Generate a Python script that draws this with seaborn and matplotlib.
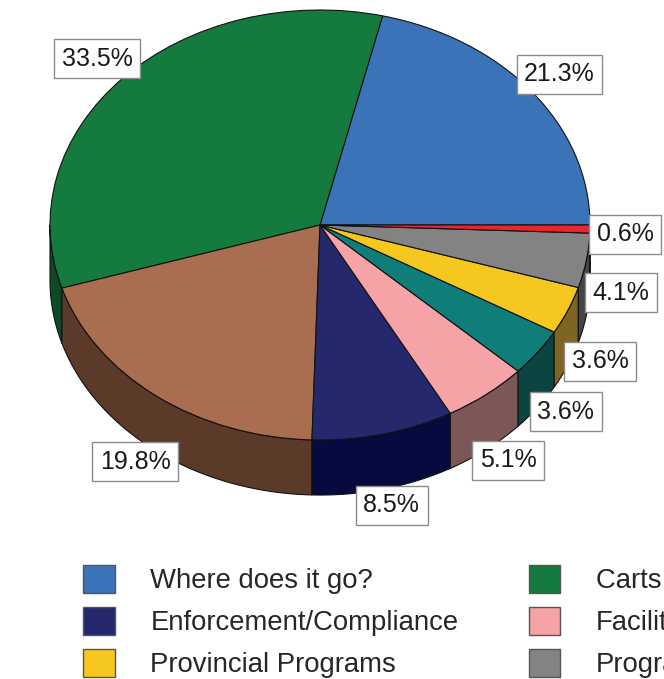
import numpy as np
import matplotlib
matplotlib.use("Agg")
import matplotlib.pyplot as plt
import seaborn as sns
from matplotlib.patches import Patch

# Budget shares, drawn counter-clockwise from 3 o'clock
categories = [
    "Where does it go?", "Carts and Bins", "Collection",
    "Enforcement/Compliance", "Facilities", "Education",
    "Provincial Programs", "Programs", "Other",
]
shares = [21.3, 33.5, 19.8, 8.5, 5.1, 3.6, 3.6, 4.1, 0.6]
top_colors = ["#3b73b9", "#157a3d", "#a96d4f", "#25286d", "#f5a3a6",
              "#0f7d78", "#f5c71f", "#838383", "#e9262b"]
side_colors = ["#1d3a5e", "#0e4a25", "#5c3a29", "#060a3e", "#7d5657",
               "#0b4440", "#7f6522", "#454545", "#6e1214"]

DEPTH = 0.256  # thickness of the disc, in radius units


def draw_pie(ax):
    # top faces
    wedges, _ = ax.pie(shares, colors=top_colors, startangle=0,
                       counterclock=True,
                       wedgeprops=dict(edgecolor="#111111", linewidth=0.8))
    ax.set_aspect("auto")

    frac = np.array(shares) / sum(shares)
    bounds = np.concatenate([[0], np.cumsum(frac)]) * 360

    # side walls for the front (lower) half
    for i in range(len(shares)):
        lo = max(bounds[i], 180)
        hi = min(bounds[i + 1], 360)
        if hi <= lo:
            continue
        t = np.radians(np.linspace(lo, hi, 60))
        xs = np.concatenate([np.cos(t), np.cos(t[::-1])])
        ys = np.concatenate([np.sin(t), np.sin(t[::-1]) - DEPTH])
        ax.fill(xs, ys, facecolor=side_colors[i], edgecolor="#111111",
                linewidth=0.8, zorder=0.5)

    # percentage labels, pushed out past the rim (and the wall, in front)
    for i, s in enumerate(shares):
        mid = np.radians((bounds[i] + bounds[i + 1]) / 2)
        r = 1.13
        x = r * np.cos(mid)
        y = r * np.sin(mid)
        if np.sin(mid) < 0:
            y -= DEPTH * 0.8 * (1 - np.exp(6 * np.sin(mid)))
        ax.text(x, y, f"{s:.1f}%", ha="center", va="center",
                fontsize=18, color="#1a1a1a", zorder=5,
                bbox=dict(boxstyle="square,pad=0.3", facecolor="white",
                          edgecolor="#8c8c8c", linewidth=1.0))

    # place the ellipse: centre (320, 225) px, radii 270 x 215 px
    W, H = 664, 679
    ax.set_xlim(-320 / 270, (W - 320) / 270)
    ax.set_ylim(-(H - 225) / 215, 225 / 215)
    ax.axis("off")


def main():
    sns.set_theme(style="white")
    plt.rcParams["font.family"] = ["Liberation Sans", "DejaVu Sans"]

    fig = plt.figure(figsize=(6.64, 6.79), dpi=100)
    ax = fig.add_axes([0, 0, 1, 1])
    draw_pie(ax)

    handles = [Patch(facecolor=c, edgecolor="#555555", linewidth=1.0)
               for c in top_colors]
    # matplotlib fills legend columns first; reorder to read row by row
    order = [0, 3, 6, 1, 4, 7, 2, 5, 8]
    fig.legend([handles[k] for k in order], [categories[k] for k in order],
               ncol=3, loc="upper left",
               bbox_to_anchor=(83 / 664, 1 - 565 / 679),
               frameon=False, fontsize=19.8, borderpad=0, borderaxespad=0,
               handlelength=1.15, handleheight=1.2, handletextpad=1.3,
               labelspacing=0.45, columnspacing=2.55)

    fig.savefig("out.png", dpi=100)


if __name__ == "__main__":
    main()
